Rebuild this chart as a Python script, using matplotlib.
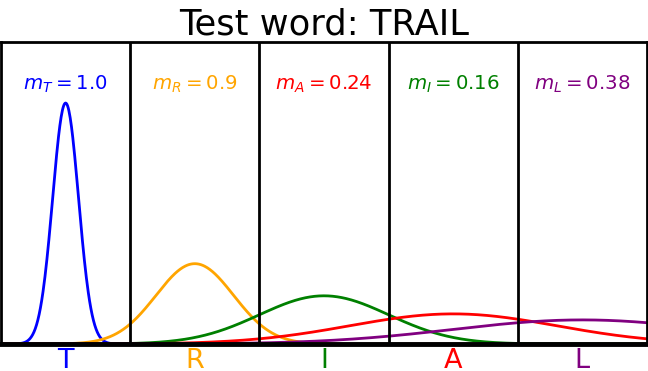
import numpy as np
import matplotlib.pyplot as plt

letters = ["T", "R", "I", "A", "L"]
colors = ["blue", "orange", "green", "red", "purple"]
means = [0.5, 1.5, 2.5, 3.5, 4.5]
sigmas = [0.1, 0.3, 0.5, 0.8, 1.0]

panel_labels = [r"$m_T = 1.0$", r"$m_R = 0.9$", r"$m_A = 0.24$", r"$m_I = 0.16$", r"$m_L = 0.38$"]
panel_colors = ["blue", "orange", "red", "green", "purple"]

fig = plt.figure(figsize=(6.48, 3.71), dpi=100)
ax = fig.add_axes([1/648, 27/371, 646/648, 302/371])

x = np.linspace(0, 5, 1000)
for mu, s, c in zip(means, sigmas, colors):
    y = np.exp(-(x - mu)**2 / (2 * s**2)) / (s * np.sqrt(2 * np.pi))
    ax.plot(x, y, color=c, lw=2)

for i in range(1, 5):
    ax.axvline(i, color="black", lw=2)

for i, (lab, c) in enumerate(zip(panel_labels, panel_colors)):
    ax.text(i + 0.5, 4.30, lab, color=c, fontsize=14.2, ha="center", va="center")

ax.set_xlim(0, 5)
ax.set_ylim(0, 5)
ax.set_xticks(means)
ax.set_xticklabels(letters, fontsize=19.5)
for t, c in zip(ax.get_xticklabels(), colors):
    t.set_color(c)
ax.tick_params(axis="x", length=0, pad=3)
ax.set_yticks([])
for sp in ax.spines.values():
    sp.set_linewidth(2)
ax.spines["bottom"].set_linewidth(3.5)

ax.set_title("Test word: TRAIL", fontsize=25.4, pad=5)

fig.savefig("out.png", dpi=100)
